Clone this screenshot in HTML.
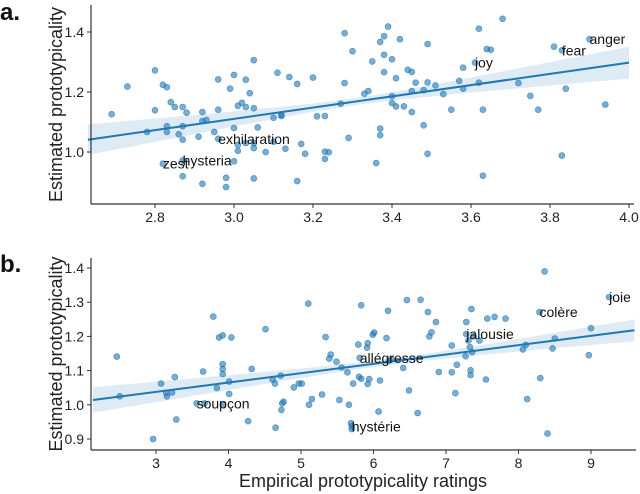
<!DOCTYPE html>
<html><head><meta charset="utf-8">
<style>
html,body{margin:0;padding:0;background:#fff;}
svg{display:block;font-family:"Liberation Sans",sans-serif;}
</style></head>
<body>
<svg id="chart" width="640" height="494" viewBox="0 0 640 494"></svg>
<script>
// Panel a data (English)
const aX = [2.69,2.73,2.80,2.82,2.83,2.80,2.78,2.84,2.85,2.83,2.83,2.86,2.87,2.88,2.87,2.87,2.82,2.87,2.87,2.92,2.92,2.93,2.91,2.92,2.95,2.96,2.96,2.96,2.99,3.00,3.00,3.00,2.98,2.98,3.01,3.02,3.03,3.03,3.04,3.05,3.05,3.06,3.01,3.01,3.03,3.05,3.05,3.05,3.08,3.10,3.10,3.12,3.12,3.11,3.13,3.14,3.16,3.17,3.16,3.18,3.20,3.21,3.23,3.23,3.23,3.24,3.27,3.28,3.28,3.29,3.30,3.33,3.34,3.35,3.36,3.37,3.37,3.37,3.38,3.38,3.38,3.39,3.40,3.40,3.40,3.41,3.41,3.42,3.43,3.44,3.45,3.45,3.45,3.46,3.48,3.48,3.49,3.49,3.49,3.51,3.53,3.55,3.57,3.58,3.58,3.61,3.62,3.62,3.63,3.63,3.64,3.65,3.68,3.72,3.75,3.77,3.81,3.83,3.83,3.84,3.90,3.94];
const aY = [1.126,1.218,1.272,1.224,1.216,1.139,1.067,1.166,1.15,1.086,1.067,1.059,1.15,1.131,1.086,1.041,0.961,0.972,0.919,1.133,1.103,1.107,1.051,0.894,1.067,1.242,1.141,1.044,1.211,1.257,1.08,0.969,0.914,0.883,1.154,1.164,1.15,1.241,1.196,1.306,1.146,1.082,1.024,1.004,1.03,1.03,1.013,0.912,1.0,1.114,1.034,1.12,1.124,1.264,1.011,1.25,1.227,1.027,0.903,0.994,1.248,1.119,1.12,1.001,0.977,0.999,1.161,1.396,1.23,1.047,1.336,1.194,1.203,1.302,0.963,1.367,1.078,1.056,1.386,1.324,1.266,1.418,1.309,1.186,1.163,1.246,1.152,1.376,1.152,1.274,1.267,1.203,1.133,1.231,1.206,1.089,1.36,1.232,0.994,1.222,1.193,1.141,1.237,1.281,1.211,1.298,1.411,1.231,1.141,0.921,1.343,1.341,1.444,1.23,1.187,1.141,1.351,1.339,0.988,1.211,1.376,1.158];
const aLabels = ["anger","fear","joy","exhilaration","hysteria","zest"];
const aLabelX = [3.90,3.83,3.61,2.96,2.87,2.82];
const aLabelY = [1.376,1.339,1.298,1.044,0.972,0.961];
const aTicksX = [2.8,3.0,3.2,3.4,3.6,3.8,4.0];
const aTickLabelsX = ["2.8","3.0","3.2","3.4","3.6","3.8","4.0"];
const aTicksY = [1.0,1.2,1.4];
const aTickLabelsY = ["1.0","1.2","1.4"];
const aFitStart = [2.63,1.041];
const aFitEnd = [4.0,1.298];

// Panel b data (French)
const bX = [2.46,2.50,2.96,3.07,3.14,3.15,3.22,3.26,3.28,3.56,3.65,3.67,3.79,3.84,3.87,3.92,3.92,3.92,3.92,3.92,4.01,4.01,4.04,4.32,4.27,4.51,4.61,4.64,4.65,4.72,4.73,4.74,4.76,4.90,4.97,5.01,5.10,5.11,5.15,5.29,5.34,5.39,5.41,5.49,5.53,5.56,5.64,5.66,5.69,5.70,5.70,5.72,5.79,5.80,5.81,5.83,5.83,5.91,5.92,5.92,5.94,5.99,6.01,6.07,6.09,6.18,6.20,6.21,6.25,6.41,6.46,6.49,6.61,6.65,6.75,6.77,6.80,6.86,6.90,7.08,7.08,7.15,7.13,7.27,7.28,7.28,7.31,7.33,7.35,7.34,7.34,7.36,7.38,7.46,7.55,7.57,7.67,7.82,8.06,8.10,8.12,8.29,8.30,8.36,8.40,8.47,8.50,8.97,9.00,9.25];
const bY = [1.141,1.025,0.9,1.062,1.035,1.025,1.036,1.081,0.957,1.004,1.097,1.004,1.258,1.049,1.197,1.203,1.119,1.105,1.09,1.0,1.068,1.032,1.197,1.105,0.952,1.221,1.074,1.062,0.933,1.085,0.985,1.004,1.009,1.051,1.062,1.062,1.296,1.0,1.017,1.03,1.198,1.135,1.147,1.126,1.014,1.109,1.095,1.0,0.946,0.937,0.929,1.062,1.176,1.082,1.137,1.291,1.076,1.167,1.18,1.061,1.075,1.205,1.211,0.98,1.071,1.195,1.275,1.128,1.134,1.108,1.306,1.042,0.976,1.307,1.271,1.2,1.212,1.242,1.096,1.173,1.095,1.117,1.034,1.142,1.242,1.207,1.188,1.169,1.28,1.101,1.087,1.154,1.2,1.188,1.074,1.252,1.257,1.252,1.162,1.175,1.017,1.271,1.078,1.39,0.916,1.165,1.194,1.145,1.224,1.315];
const bLabels = ["joie","colère","jalousie","allégresse","soupçon","hystérie"];
const bLabelX = [9.25,8.29,7.28,5.81,3.56,5.70];
const bLabelY = [1.315,1.271,1.207,1.137,1.004,0.937];
const bTicksX = [3,4,5,6,7,8,9];
const bTickLabelsX = ["3","4","5","6","7","8","9"];
const bTicksY = [0.9,1.0,1.1,1.2,1.3,1.4];
const bTickLabelsY = ["0.9","1.0","1.1","1.2","1.3","1.4"];
const bFitStart = [2.13,1.014];
const bFitEnd = [9.6,1.218];

const NS = "http://www.w3.org/2000/svg";
const svg = document.getElementById("chart");
function mk(tag, attrs, parent){
  const e = document.createElementNS(NS, tag);
  for (const k in attrs) e.setAttribute(k, attrs[k]);
  (parent||svg).appendChild(e);
  return e;
}

function panel(p){
  const g = mk("g", {});
  
  
  const sx = v => p.px0 + (v - p.x0) * p.kx;
  const sy = v => p.py0 - (v - p.y0) * p.ky;
  const xs0 = p.fs[0], xs1 = p.fe[0];
  const slope = (p.fe[1]-p.fs[1])/(xs1-xs0);
  const fit = x => p.fs[1] + slope*(x-xs0);
  const hw = x => Math.sqrt(p.bA*p.bA + p.bB*(x-p.xc)*(x-p.xc));
  let up = [], dn = [];
  for (let i=0;i<=60;i++){
    const x = xs0 + (xs1-xs0)*i/60;
    up.push(sx(x).toFixed(1)+","+sy(fit(x)+hw(x)).toFixed(1));
    dn.unshift(sx(x).toFixed(1)+","+sy(fit(x)-hw(x)).toFixed(1));
  }
  const band = mk("polygon", {points: up.concat(dn).join(" "), fill:"rgba(31,119,180,0.15)", stroke:"none"}, g);
  
  
  for (let i=0;i<p.xs.length;i++){
    const c = mk("circle", {cx:sx(p.xs[i]).toFixed(1), cy:sy(p.ys[i]).toFixed(1), r:3, fill:"rgba(31,119,180,0.6)", stroke:"rgba(31,119,180,0.75)", "stroke-width":0.6}, g);
    
    
  }
  const ln = mk("line", {x1:sx(xs0), y1:sy(fit(xs0)), x2:sx(xs1), y2:sy(fit(xs1)), stroke:"#1f77b4", "stroke-width":2}, g);
  
  
  for (let i=0;i<p.labels.length;i++){
    const t = mk("text", {x:sx(p.lx[i]), y:sy(p.ly[i])+5, "font-size":14, fill:"#111"}, g);
    t.textContent = p.labels[i];
    
    
  }
  const ay = mk("line", {x1:p.left, y1:p.top, x2:p.left, y2:p.bottom, stroke:"#333", "stroke-width":1.2}, g);
  
  
  const ax = mk("line", {x1:p.left, y1:p.bottom, x2:p.right, y2:p.bottom, stroke:"#333", "stroke-width":1.2}, g);
  
  
  for (let i=0;i<p.tx.length;i++){
    const x = sx(p.tx[i]);
    mk("line", {x1:x, y1:p.bottom, x2:x, y2:p.bottom+4, stroke:"#333"}, g);
    const t = mk("text", {x:x, y:p.bottom+18, "font-size":14, "text-anchor":"middle", fill:"#222"}, g);
    t.textContent = p.txl[i];
    
    
  }
  for (let i=0;i<p.ty.length;i++){
    const y = sy(p.ty[i]);
    mk("line", {x1:p.left-4, y1:y, x2:p.left, y2:y, stroke:"#333"}, g);
    const t = mk("text", {x:p.left-7, y:y+5, "font-size":14, "text-anchor":"end", fill:"#222"}, g);
    t.textContent = p.tyl[i];
    
    
  }
  const yt = mk("text", {x:0, y:0, "font-size":18, "text-anchor":"middle", fill:"#222", transform:"translate("+p.ytx+","+((p.top+p.bottom)/2)+") rotate(-90)"}, g);
  yt.textContent = "Estimated prototypicality";
  
  
  const pl = mk("text", {x:0, y:p.letterY, "font-size":24, "font-weight":"bold", fill:"#111"}, g);
  pl.textContent = p.letter;
  
  
}

panel({name:"panel-a", xs:aX, ys:aY, labels:aLabels, lx:aLabelX, ly:aLabelY,
  tx:aTicksX, txl:aTickLabelsX, ty:aTicksY, tyl:aTickLabelsY, fs:aFitStart, fe:aFitEnd,
  x0:2.8, px0:155, kx:395, y0:1.4, py0:32, ky:300,
  left:91, right:634, top:5, bottom:204, xc:3.3, bA:0.012, bB:0.0055,
  ytx:62, letter:"a.", letterY:20});
panel({name:"panel-b", xs:bX, ys:bY, labels:bLabels, lx:bLabelX, ly:bLabelY,
  tx:bTicksX, txl:bTickLabelsX, ty:bTicksY, tyl:bTickLabelsY, fs:bFitStart, fe:bFitEnd,
  x0:3, px0:156, kx:72.5, y0:1.4, py0:268, ky:342,
  left:91, right:636, top:258, bottom:450, xc:6.2, bA:0.009, bB:0.00008,
  ytx:62, letter:"b.", letterY:272});

const xl = mk("text", {x:363, y:487, "font-size":18, "text-anchor":"middle", fill:"#222"});
xl.textContent = "Empirical prototypicality ratings";


</script>
</body></html>
